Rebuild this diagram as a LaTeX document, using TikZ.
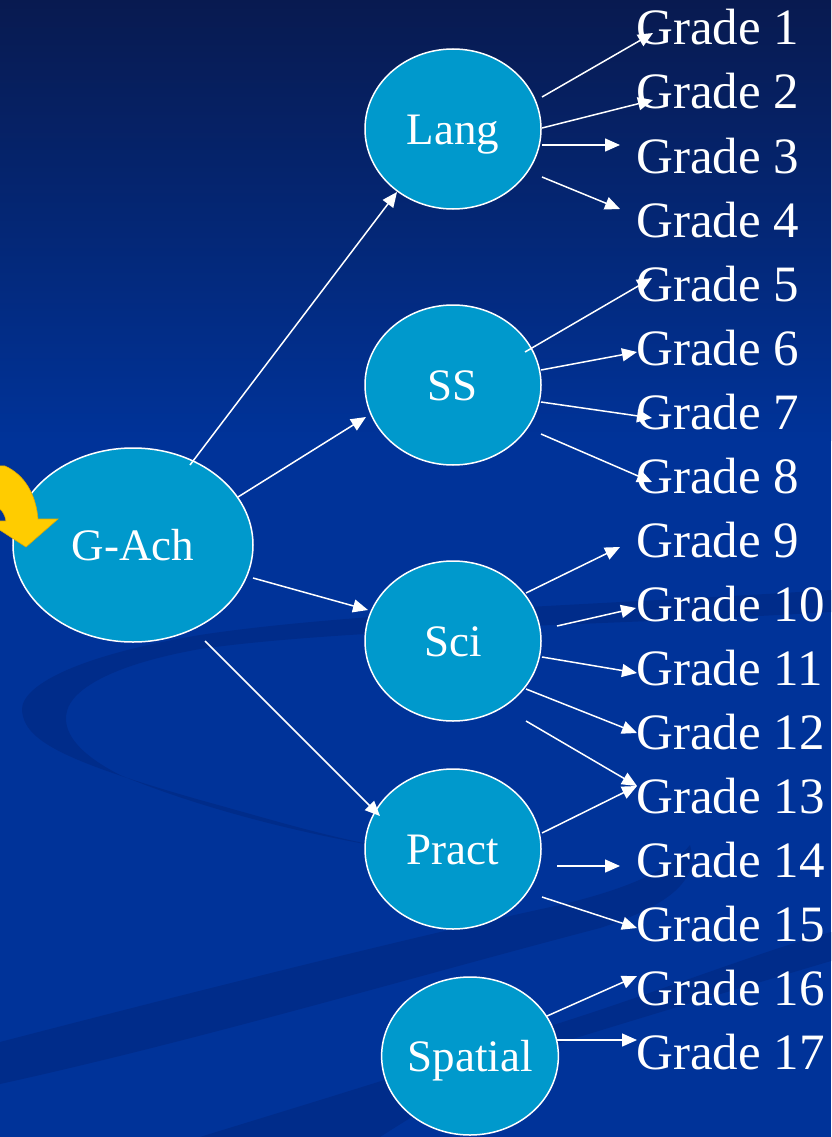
\documentclass[tikz,border=0pt]{standalone}
\usepackage{fontspec}
\setmainfont{Liberation Serif}
\usetikzlibrary{arrows.meta,calc,shapes.geometric}
\definecolor{bgblue}{RGB}{0,51,153}
\definecolor{bgtop}{RGB}{8,26,80}
\definecolor{swirl}{RGB}{0,44,138}
\definecolor{ballfill}{RGB}{0,153,204}
\definecolor{yel}{RGB}{255,204,0}
\definecolor{yeledge}{RGB}{225,170,0}
\tikzset{
  ball/.style={ellipse, draw=white, line width=1.5pt, fill=ballfill, inner sep=0pt,
    minimum width=176pt, minimum height=160pt, text=white,
    font=\fontsize{45}{50}\selectfont, text height=30pt, text depth=0pt},
  grade/.style={anchor=base west, inner sep=0pt, text=white, font=\fontsize{51}{56}\selectfont},
  arr/.style={draw=white, line width=1.5pt, -{Triangle[length=15pt,width=13pt]}},
}
\begin{document}
\begin{tikzpicture}[x=1pt,y=-1pt]
\useasboundingbox (0,0) rectangle (831,1137);
\begin{scope}
\clip (0,0) rectangle (831,1137);
% background
\fill[bgblue] (0,0) rectangle (831,1137);
\shade[top color=bgtop, bottom color=bgblue] (0,0) rectangle (831,440);
% swirl bands
\fill[swirl] (831,590) .. controls (600,605) and (350,612) .. (200,635)
  .. controls (80,655) and (20,685) .. (22,711)
  .. controls (25,740) and (60,760) .. (200,800)
  .. controls (280,822) and (330,838) .. (400,850)
  .. controls (300,834) and (200,808) .. (120,775)
  .. controls (75,752) and (62,730) .. (67,711)
  .. controls (72,690) and (110,665) .. (200,649)
  .. controls (350,628) and (600,626) .. (831,612) -- cycle;
\fill[swirl] (0,1042) .. controls (200,990) and (420,935) .. (560,905)
  .. controls (630,888) and (670,870) .. (690,845)
  .. controls (700,880) and (670,905) .. (600,928)
  .. controls (420,975) and (200,1040) .. (0,1084) -- cycle;
\fill[swirl] (200,1137) .. controls (320,1100) and (420,1070) .. (547,1027)
  .. controls (650,995) and (750,955) .. (831,932) -- (831,961)
  .. controls (750,985) and (650,1015) .. (553,1045)
  .. controls (480,1075) and (430,1105) .. (380,1137) -- cycle;
\end{scope}

% nodes
\node[ball, minimum width=240pt, minimum height=194pt] (gach) at (133,545) {G-Ach};
\node[ball] (lang) at (453,129) {Lang};
\node[ball] (ss) at (453,385) {SS};
\node[ball] (sci) at (453,641) {Sci};
\node[ball] (pract) at (453,849) {Pract};
\node[ball, minimum height=158pt] (spatial) at (470,1056) {Spatial};

% yellow curved arrow, on top of G-Ach
\begin{scope}
\clip (0,0) rectangle (831,1137);
\fill[yel, draw=yeledge, line width=0.6pt] (-60,464) -- (5,466)
  .. controls (25,475) and (36,495) .. (38,519) -- (58,519) -- (26,547)
  -- (-14,521) -- (6,521) .. controls (4,510) and (0,500) .. (-60,494) -- cycle;
\end{scope}

\foreach \i in {1,...,17} {
  \node[grade] (g\i) at (636,{45+64*(\i-1)}) {Grade \i};
}

% G-Ach connectors
\draw[arr] ($(gach)+(57,-80)$) -- ($(lang)+(-56,63)$);
\draw[arr] ($(gach)+(105,-48)$) -- ($(ss)+(-87,32)$);
\draw[arr] ($(gach)+(120,33)$) -- ($(sci)+(-85,-31)$);
\draw[arr] ($(gach)+(72,96)$) -- ($(pract)+(-73,-33)$);

% Lang
\draw[arr] ($(lang)+(89,-32)$) -- ($(g1.base west)+(17,-12)$);
\draw[arr] ($(lang)+(89,-1)$) -- ($(g2.base west)+(17,-9)$);
\draw[arr] ($(lang)+(89,16)$) -- ($(g3.base west)+(-16,-28)$);
\draw[arr] ($(lang)+(89,48)$) -- ($(g4.base west)+(-16,-28)$);
% SS
\draw[arr] ($(ss)+(72,-33)$) -- ($(g5.base west)+(16,-23)$);
\draw[arr] ($(ss)+(88,-15)$) -- ($(g6.base west)+(1,-13)$);
\draw[arr] ($(ss)+(88,17)$) -- ($(g7.base west)+(16,-11)$);
\draw[arr] ($(ss)+(88,49)$) -- ($(g8.base west)+(16,-11)$);
% Sci
\draw[arr] ($(sci)+(73,-48)$) -- ($(g9.base west)+(-16,-10)$);
\draw[arr] ($(sci)+(104,-15)$) -- ($(g10.base west)+(0,-13)$);
\draw[arr] ($(sci)+(89,16)$) -- ($(g11.base west)+(1,-12)$);
\draw[arr] ($(sci)+(73,48)$) -- ($(g12.base west)+(1,-16)$);
\draw[arr] ($(sci)+(73,80)$) -- ($(g13.base west)+(1,-27)$);
% Pract
\draw[arr] ($(pract)+(89,-16)$) -- ($(g13.base west)+(1,-27)$);
\draw[arr] ($(pract)+(104,17)$) -- ($(g14.base west)+(-16,-11)$);
\draw[arr] ($(pract)+(89,48)$) -- ($(g15.base west)+(1,-13)$);
% Spatial
\draw[arr] ($(spatial)+(77,-40)$) -- ($(g16.base west)+(1,-29)$);
\draw[arr] ($(spatial)+(87,-16)$) -- ($(g17.base west)+(1,-29)$);
\end{tikzpicture}
\end{document}
